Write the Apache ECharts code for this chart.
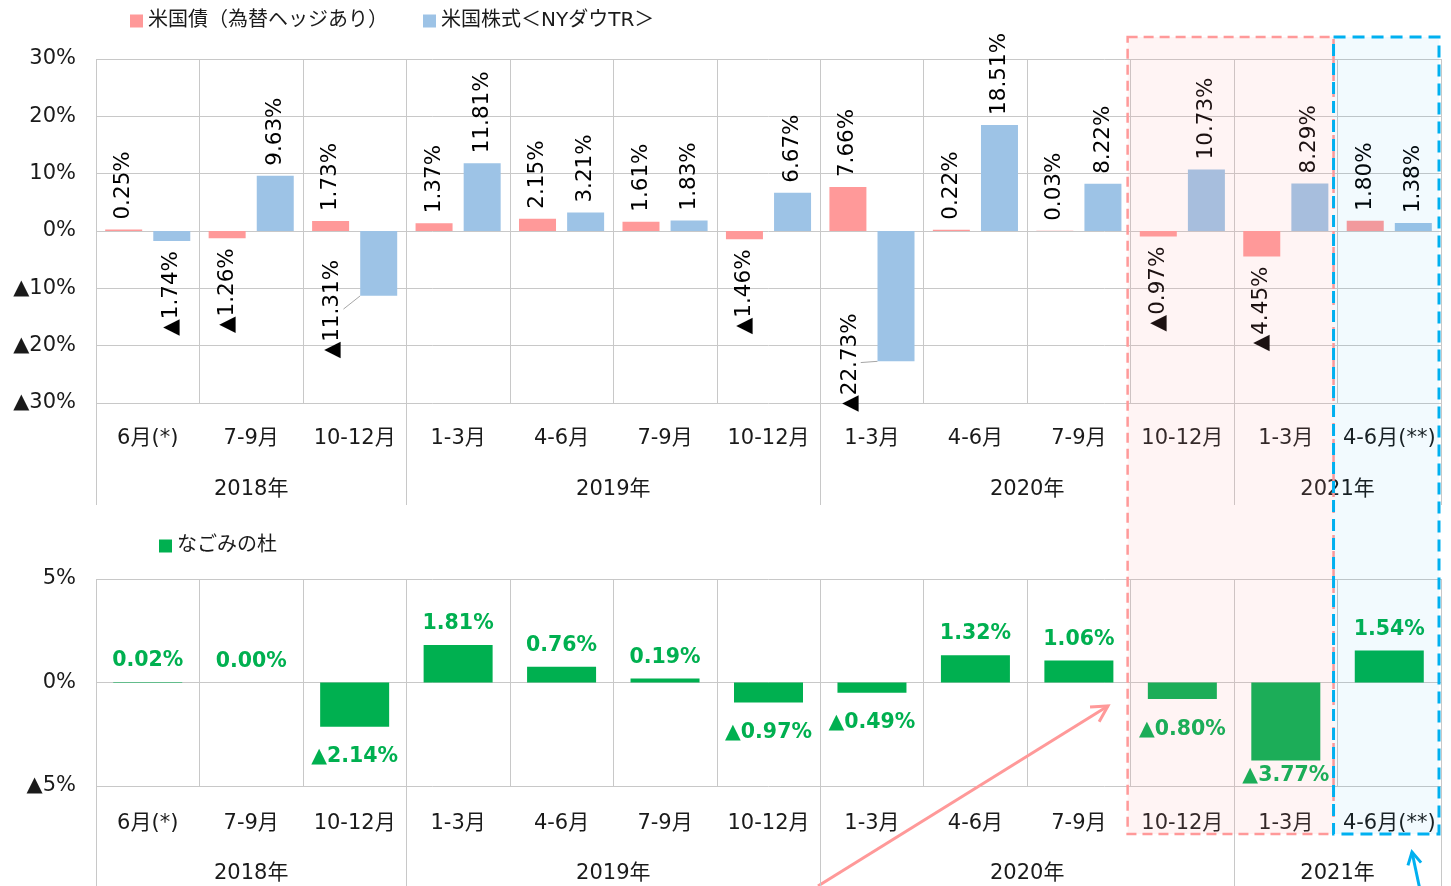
<!DOCTYPE html>
<html><head><meta charset="utf-8">
<script src="https://cdn.jsdelivr.net/npm/echarts@6/dist/echarts.min.js"></script>
<style>html,body{margin:0;padding:0;background:#fff}#c{width:1451px;height:886px}</style>
</head><body><div id="c"></div>
<script>
// ---- data ----
const months = ['6月(*)','7-9月','10-12月','1-3月','4-6月','7-9月','10-12月','1-3月','4-6月','7-9月','10-12月','1-3月','4-6月(**)'];
const years = ['2018年','2019年','2020年','2021年'];
const yearSpans = [3,4,4,2];
const usBondHedged = [0.25,-1.26,1.73,1.37,2.15,1.61,-1.46,7.66,0.22,0.03,-0.97,-4.45,1.80];
const usStockDow = [-1.74,9.63,-11.31,11.81,3.21,1.83,6.67,-22.73,18.51,8.22,10.73,8.29,1.38];
const nagomi = [0.02,0.00,-2.14,1.81,0.76,0.19,-0.97,-0.49,1.32,1.06,-0.80,-3.77,1.54];
const topScale = [-30,30,10];
const bottomScale = [-5,5,5];
const seriesNames = ['米国債（為替ヘッジあり）','米国株式＜NYダウTR＞','なごみの杜'];

// ---- helpers ----
const LATIN = "'DejaVu Sans','Noto Sans CJK JP',sans-serif";
const GRID_COLOR = '#C8C8C8';
const TEXT = '#1a1a1a';
const AXIS_FS = 21;
const pct = v => (v < 0 ? '▲' : '') + Math.abs(v).toFixed(2) + '%';
const tickFmt = v => (v < 0 ? '▲' : '') + Math.abs(v) + '%';

const G1 = {left: 96, right: 10, top: 59, height: 344};
const G2 = {left: 96, right: 10, top: 579, height: 207};

// year axis: 2 slots per category, boundaryGap false
const yearAxisData = new Array(months.length * 2 + 1).fill('');
const yearBoundaries = new Set([0]);
let cursor = 0;
years.forEach((y, i) => {
  yearAxisData[2 * cursor + yearSpans[i]] = y;
  cursor += yearSpans[i];
  yearBoundaries.add(2 * cursor);
});

function monthAxis(gridIndex, margin) {
  return {
    type: 'category', gridIndex, data: months, position: 'bottom',
    axisLine: {show: false}, axisTick: {show: false},
    axisLabel: {interval: 0, margin, fontSize: AXIS_FS, color: TEXT, fontFamily: LATIN},
    splitLine: {show: true, interval: 0, lineStyle: {color: GRID_COLOR, width: 1}}
  };
}
function yearAxis(gridIndex, margin, tickLen) {
  return {
    type: 'category', gridIndex, data: yearAxisData, position: 'bottom', boundaryGap: false,
    axisLine: {show: false},
    axisTick: {show: true, length: tickLen, interval: (i) => yearBoundaries.has(i), lineStyle: {color: GRID_COLOR, width: 1}},
    axisLabel: {interval: (i, v) => v !== '', margin, fontSize: AXIS_FS, color: TEXT, fontFamily: LATIN},
    splitLine: {show: false}
  };
}
function valueAxis(gridIndex, sc) {
  return {
    type: 'value', gridIndex, min: sc[0], max: sc[1], interval: sc[2],
    axisLine: {show: false}, axisTick: {show: false},
    axisLabel: {formatter: tickFmt, fontSize: AXIS_FS, color: TEXT, fontFamily: LATIN, margin: 20},
    splitLine: {show: true, lineStyle: {color: GRID_COLOR, width: 1}}
  };
}

// screen offsets [dx, dy] for labels Excel moved off their bars
const movedLabels = {2: [-46, -46], 7: [-46, -58]};
function topItems(arr, withLines) {
  return arr.map((v, i) => {
    const it = {value: v, label: {align: v < 0 ? 'right' : 'left'}};
    if (withLines && movedLabels[i]) it.labelLine = {show: true, lineStyle: {color: '#A6A6A6', width: 1}};
    return it;
  });
}
const topLabel = {
  show: true, position: 'outside', rotate: 90, distance: 10, verticalAlign: 'middle',
  fontFamily: LATIN, fontSize: 21.5, color: '#000',
  formatter: p => pct(p.value)
};
// bottom labels: negative ones are kept inside the plot area, as the spreadsheet does
const LABEL_H = 21;
const nagomiItems = nagomi.map(v => {
  if (v >= 0) return {value: v, label: {position: 'top', distance: 11}};
  const barEnd = G2.top + (bottomScale[1] - v) / (bottomScale[1] - bottomScale[0]) * G2.height;
  const room = G2.top + G2.height - barEnd - LABEL_H;
  return {value: v, label: {position: 'bottom', distance: Math.max(2, Math.min(20, room))}};
});

const chart = echarts.init(document.getElementById('c'), null, {renderer: 'canvas'});
const option = {
  backgroundColor: '#fff',
  animation: false,
  legend: [
    {data: [seriesNames[0], seriesNames[1]], left: 125, top: 6, itemWidth: 13, itemHeight: 13, itemGap: 35,
     icon: 'rect', textStyle: {fontSize: 20, color: TEXT, fontFamily: LATIN}},
    {data: [seriesNames[2]], left: 154, top: 531, itemWidth: 13, itemHeight: 13,
     icon: 'rect', textStyle: {fontSize: 20, color: TEXT, fontFamily: LATIN}}
  ],
  grid: [
    Object.assign({containLabel: false}, G1),
    Object.assign({containLabel: false}, G2)
  ],
  xAxis: [monthAxis(0, 25), yearAxis(0, 76, 102), monthAxis(1, 27), yearAxis(1, 77, 102)],
  yAxis: [valueAxis(0, topScale), valueAxis(1, bottomScale)],
  series: [
    {name: seriesNames[0], type: 'bar', xAxisIndex: 0, yAxisIndex: 0, barWidth: 37, barGap: '30%',
     itemStyle: {color: '#FF9999'}, data: topItems(usBondHedged, false), label: topLabel},
    {name: seriesNames[1], type: 'bar', xAxisIndex: 0, yAxisIndex: 0, barWidth: 37, barGap: '30%',
     itemStyle: {color: '#9DC3E6'}, data: topItems(usStockDow, true), label: topLabel,
     // label is rotated 90deg, so its layout offsets are in the rotated frame
     labelLayout: p => {
       const m = movedLabels[p.dataIndex];
       return m ? {dx: -m[1], dy: m[0]} : {};
     }},
    {name: seriesNames[2], type: 'bar', xAxisIndex: 2, yAxisIndex: 1, barWidth: 69,
     itemStyle: {color: '#00B050'}, data: nagomiItems,
     label: {show: true, fontFamily: LATIN, fontWeight: 'bold', fontSize: 20.5,
             color: '#00B050', formatter: p => pct(p.value)}}
  ]
};
chart.setOption(option);

// ---- highlight boxes and arrows (annotations) ----
const px = i => chart.convertToPixel({xAxisIndex: 0}, i);
const band = px(1) - px(0);
const yTop = chart.convertToPixel({yAxisIndex: 0}, topScale[1]) - 22;
const yBot = chart.convertToPixel({yAxisIndex: 1}, bottomScale[0]) + 48;
const pinkL = px(10) - band / 2 - 3, pinkR = px(11) + band / 2 - 4;
const blueL = pinkR, blueR = px(12) + band / 2 - 2;

function arrow(x1, y1, x2, y2, color, w, head) {
  const a = Math.atan2(y2 - y1, x2 - x1);
  const h1 = [x2 - head * Math.cos(a - 0.5), y2 - head * Math.sin(a - 0.5)];
  const h2 = [x2 - head * Math.cos(a + 0.5), y2 - head * Math.sin(a + 0.5)];
  return {type: 'group', z: 200, children: [
    {type: 'line', shape: {x1, y1, x2, y2}, style: {stroke: color, lineWidth: w}},
    {type: 'polyline', shape: {points: [h1, [x2, y2], h2]}, style: {stroke: color, lineWidth: w, fill: null}}
  ]};
}

chart.setOption({graphic: [
  {type: 'rect', z: 100, shape: {x: pinkL, y: yTop, width: pinkR - pinkL, height: yBot - yTop},
   style: {fill: 'rgba(255,153,153,0.11)', stroke: '#FF9999', lineWidth: 2.5, lineDash: [10, 6]}},
  {type: 'rect', z: 101, shape: {x: blueL, y: yTop, width: blueR - blueL, height: yBot - yTop},
   style: {fill: 'rgba(0,160,230,0.05)', stroke: '#00B0F0', lineWidth: 3, lineDash: [12, 7]}},
  arrow(818, 886, 1108, 706, '#FF9999', 3, 18),
  arrow(1420, 890, 1412, 852, '#00B0F0', 3, 14)
]});
</script>
</body></html>
